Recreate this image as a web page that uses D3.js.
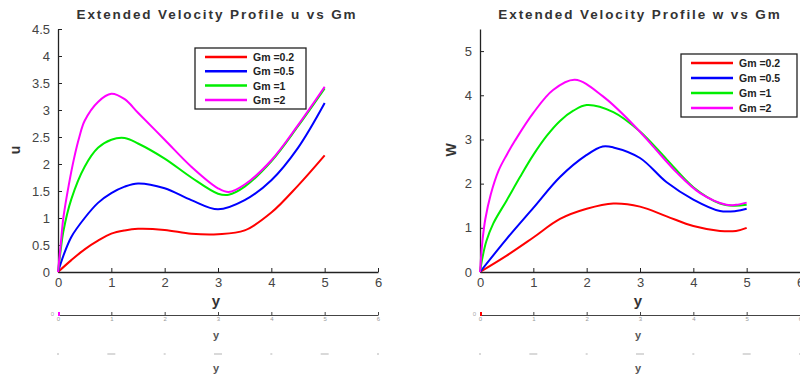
<!DOCTYPE html>
<html>
<head>
<meta charset="utf-8">
<script src="https://cdn.jsdelivr.net/npm/d3@7"></script>
<style>
body { margin: 0; background: #fff; }
svg text { font-family: Arial, "Liberation Sans", sans-serif; }
</style>
</head>
<body>
<svg id="chart" width="800" height="378"></svg>
<script>
// values
var gmLabels = ["Gm =0.2", "Gm =0.5", "Gm =1", "Gm =2"]
var colors = ["#ff0000", "#0000ff", "#00ee00", "#ff00ff"]

var uRed = [[0,0],[0.25,0.22],[0.5,0.42],[0.75,0.58],[1,0.71],[1.25,0.77],[1.5,0.8],[2,0.78],[2.5,0.71],[3,0.7],[3.5,0.77],[4,1.1],[4.5,1.6],[5,2.16]]
var uBlue = [[0,0],[0.1,0.3],[0.25,0.65],[0.5,1.0],[0.75,1.28],[1,1.46],[1.25,1.58],[1.5,1.64],[2,1.55],[2.5,1.33],[3,1.16],[3.5,1.33],[4,1.7],[4.5,2.3],[5,3.13]]
var uGreen = [[0,0],[0.05,0.4],[0.1,0.75],[0.25,1.35],[0.5,1.95],[0.75,2.3],[1,2.45],[1.25,2.48],[1.5,2.38],[2,2.1],[2.5,1.75],[3,1.45],[3.2,1.43],[3.5,1.58],[4,2.05],[4.5,2.7],[5,3.4]]
var uMagenta = [[0,0],[0.05,0.5],[0.1,1.0],[0.2,1.6],[0.3,2.1],[0.4,2.5],[0.5,2.8],[0.75,3.15],[1,3.3],[1.25,3.2],[1.5,2.95],[2,2.45],[2.5,1.95],[3,1.55],[3.2,1.48],[3.5,1.62],[4,2.07],[4.5,2.72],[5,3.43]]

var wRed = [[0,0],[0.5,0.37],[1,0.78],[1.5,1.2],[2,1.43],[2.5,1.55],[3,1.48],[3.5,1.26],[4,1.04],[4.5,0.93],[4.8,0.93],[5,1.0]]
var wBlue = [[0,0],[0.5,0.75],[1,1.45],[1.5,2.15],[2,2.65],[2.3,2.84],[2.5,2.82],[3,2.58],[3.5,2.03],[4,1.64],[4.5,1.38],[4.8,1.38],[5,1.43]]
var wGreen = [[0,0],[0.05,0.35],[0.12,0.7],[0.25,1.1],[0.5,1.62],[0.75,2.15],[1,2.65],[1.25,3.08],[1.5,3.42],[1.75,3.65],[2,3.78],[2.5,3.62],[3,3.18],[3.5,2.55],[4,1.92],[4.5,1.55],[4.75,1.5],[5,1.52]]
var wMagenta = [[0,0],[0.05,0.75],[0.1,1.2],[0.2,1.75],[0.35,2.3],[0.5,2.65],[0.66,2.98],[1,3.6],[1.37,4.12],[1.78,4.35],[2.3,3.98],[2.87,3.34],[3.24,2.85],[3.69,2.25],[4.12,1.79],[4.62,1.52],[4.8,1.52],[5,1.57]]

var xTicks = [0, 1, 2, 3, 4, 5, 6]
var uTicks = [0, 0.5, 1, 1.5, 2, 2.5, 3, 3.5, 4, 4.5]
var wTicks = [0, 1, 2, 3, 4, 5]

var svg = d3.select("#chart")
var fmt = function(d) { return String(d) }

function drawPanel(opt) {
    var g = svg.append("g")
    var x = d3.scaleLinear().domain([0, 6]).range([opt.left, opt.left + 320])
    var y = d3.scaleLinear().domain([0, opt.ymax]).range([272, 29])

    // axes (MATLAB style, ticks pointing inward)
    var xa = g.append("g").attr("transform", "translate(0,272)")
        .call(d3.axisBottom(x).tickValues(xTicks).tickFormat(fmt).tickSizeInner(-4).tickSizeOuter(0).tickPadding(6))
    var ya = g.append("g").attr("transform", "translate(" + opt.left + ",0)")
        .call(d3.axisLeft(y).tickValues(opt.yTicks).tickFormat(fmt).tickSizeInner(-4).tickSizeOuter(0).tickPadding(8))
    ;[xa, ya].forEach(function(a) {
        a.select(".domain").attr("stroke", "#222").attr("stroke-width", 1.3)
        a.selectAll(".tick line").attr("stroke", "#222")
        a.selectAll(".tick text").attr("fill", "#444").style("font-size", "13px")
    })

    var line = d3.line()
        .x(function(d) { return x(d[0]) })
        .y(function(d) { return y(d[1]) })
        .curve(d3.curveCatmullRom.alpha(0.5))

    g.selectAll(".series")
        .data(opt.series)
        .enter()
        .append("path")
        .attr("class", "series")
        .attr("d", line)
        .attr("fill", "none")
        .attr("stroke", function(d, i) { return colors[i] })
        .attr("stroke-width", 2)

    g.append("text").attr("x", opt.titleX).attr("y", 19)
        .attr("text-anchor", "middle").attr("fill", "#333")
        .style("font-size", "13.5px").style("font-weight", "bold").style("letter-spacing", "1.9px")
        .text(opt.title)

    g.append("text").attr("transform", "translate(" + opt.ylabX + ",150) rotate(-90)")
        .attr("text-anchor", "middle").attr("fill", "#333")
        .style("font-size", "14px").style("font-weight", "bold")
        .text(opt.ylab)

    g.append("text").attr("x", x(3) - 2).attr("y", 306)
        .attr("text-anchor", "middle").attr("fill", "#333")
        .style("font-size", "15px").style("font-weight", "bold")
        .text("y")

    // legend
    var lg = g.append("g").attr("transform", "translate(" + opt.legX + "," + opt.legY + ")")
    lg.append("rect").attr("width", opt.legW).attr("height", opt.legH)
        .attr("fill", "#fff").attr("stroke", "#222").attr("stroke-width", 1.3)
    var item = lg.selectAll(".item").data(gmLabels).enter().append("g")
        .attr("transform", function(d, i) { return "translate(0," + (9 + i * opt.legStep) + ")" })
    item.append("line").attr("x1", 10).attr("x2", 52)
        .attr("stroke", function(d, i) { return colors[i] }).attr("stroke-width", 2.5)
    item.append("text").attr("x", 58).attr("y", 4).attr("fill", "#222")
        .style("font-size", "10.5px").style("font-weight", "bold").text(function(d) { return d })

    // ghost rows under the plot
    var gx = g.append("g").attr("transform", "translate(0,315)")
        .call(d3.axisBottom(x).tickValues(xTicks).tickFormat(fmt).tickSizeInner(-3).tickSizeOuter(0).tickPadding(2))
    gx.select(".domain").attr("stroke", "#444")
    gx.selectAll(".tick line").attr("stroke", "#444")
    gx.selectAll(".tick text").attr("fill", "#999").style("font-size", "6px")
    g.append("text").attr("x", opt.left - 4).attr("y", 316).attr("text-anchor", "end")
        .attr("fill", "#aaa").style("font-size", "6px").text("0")
    g.append("rect").attr("x", opt.left).attr("y", 312).attr("width", 2).attr("height", 4)
        .attr("fill", opt.ghostMark)
    g.append("text").attr("x", x(3) - 2).attr("y", 339).attr("text-anchor", "middle")
        .attr("fill", "#555").style("font-size", "11px").style("font-weight", "bold").text("y")

    g.selectAll(".ghost3").data(xTicks).enter().append("line")
        .attr("x1", function(d) { return x(d) - (d % 2 ? 4 : 1) })
        .attr("x2", function(d) { return x(d) + (d % 2 ? 4 : 1) })
        .attr("y1", 354).attr("y2", 354)
        .attr("stroke", "#ccc").attr("stroke-width", 1.5)
    g.append("text").attr("x", x(3) - 2).attr("y", 372).attr("text-anchor", "middle")
        .attr("fill", "#555").style("font-size", "11px").style("font-weight", "bold").text("y")
}

drawPanel({
    left: 58, ymax: 4.5, yTicks: uTicks,
    series: [uRed, uBlue, uGreen, uMagenta],
    title: "Extended Velocity Profile u vs Gm", titleX: 217,
    ylab: "u", ylabX: 20,
    legX: 195, legY: 48, legW: 111, legH: 61, legStep: 14.3,
    ghostMark: "#ff00ff"
})

drawPanel({
    left: 480, ymax: 5.5, yTicks: wTicks,
    series: [wRed, wBlue, wGreen, wMagenta],
    title: "Extended Velocity Profile w vs Gm", titleX: 640,
    ylab: "W", ylabX: 456,
    legX: 681, legY: 54, legW: 116, legH: 63, legStep: 15,
    ghostMark: "#ff0000"
})
</script>
</body>
</html>
